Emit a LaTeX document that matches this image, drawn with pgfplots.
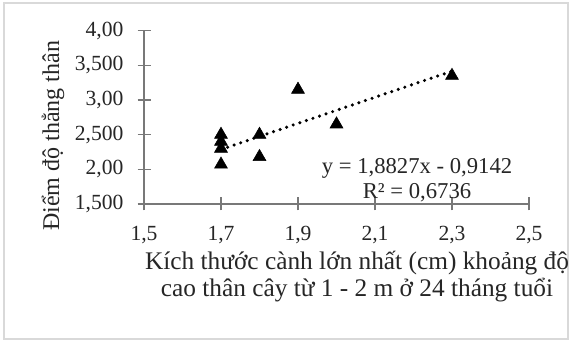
\documentclass[border=0pt]{standalone}
\usepackage{pgfplots}
\pgfplotsset{compat=1.18}
\usepackage{fontspec}
\setmainfont{Liberation Serif}
\definecolor{axgray}{RGB}{120,120,120}
\definecolor{frame}{RGB}{217,217,217}
\begin{document}
\begin{tikzpicture}[x=0.75pt,y=0.75pt]
\useasboundingbox (0,0) rectangle (570,341);
\clip (0,0) rectangle (570,341);
\fill[white] (0,0) rectangle (570,341);
\draw[frame,line width=2pt] (4,2) rectangle (568,338);
\begin{axis}[
  at={(108pt,102.75pt)}, anchor=south west,
  scale only axis, width=288.75pt, height=130pt,
  xmin=1.5, xmax=2.5, ymin=1.5, ymax=4,
  axis lines=left, axis line style={-, axgray, line width=1.2pt},
  xtick={1.5,1.7,1.9,2.1,2.3,2.5},
  xticklabels={{1,5},{1,7},{1,9},{2,1},{2,3},{2,5}},
  ytick={1.5,2,2.5,3,3.5,4},
  yticklabels={{1,500},{2,00},{2,500},{3,00},{3,500},{4,00}},
  tick align=center, major tick length=9.75pt,
  tick style={axgray, line width=1pt},
  tick label style={font=\fontsize{16.2}{19}\selectfont, text=black!85},
  yticklabel style={xshift=-7pt},
  xticklabel style={yshift=-8pt},
  clip=false,
]
\addplot[black, line width=2.6pt, line cap=round, dash pattern=on 0pt off 5.2pt]
  coordinates {(1.7,2.2864) (2.3,3.4160)};
\addplot[only marks, mark=triangle*, mark size=5.6pt, mark options={fill=black, draw=black}]
  coordinates {
    (1.7,2.50) (1.7,2.40) (1.7,2.30) (1.7,2.07)
    (1.8,2.50) (1.8,2.18)
    (1.9,3.15) (2.0,2.65) (2.3,3.35)
  };
\end{axis}
\node[rotate=90, font=\fontsize{18}{21}\selectfont, text=black!85] at (53,205) {Điểm độ thẳng thân};
\node[align=center, font=\fontsize{19}{20.25}\selectfont, text=black!85] at (357,64.5)
  {Kích thước cành lớn nhất (cm) khoảng độ\\cao thân cây từ 1 - 2 m ở 24 tháng tuổi};
\node[font=\fontsize{17}{20}\selectfont, text=black!85] at (417,173) {y = 1,8827x - 0,9142};
\node[font=\fontsize{17}{20}\selectfont, text=black!85] at (417,148) {R² = 0,6736};
\end{tikzpicture}
\end{document}
